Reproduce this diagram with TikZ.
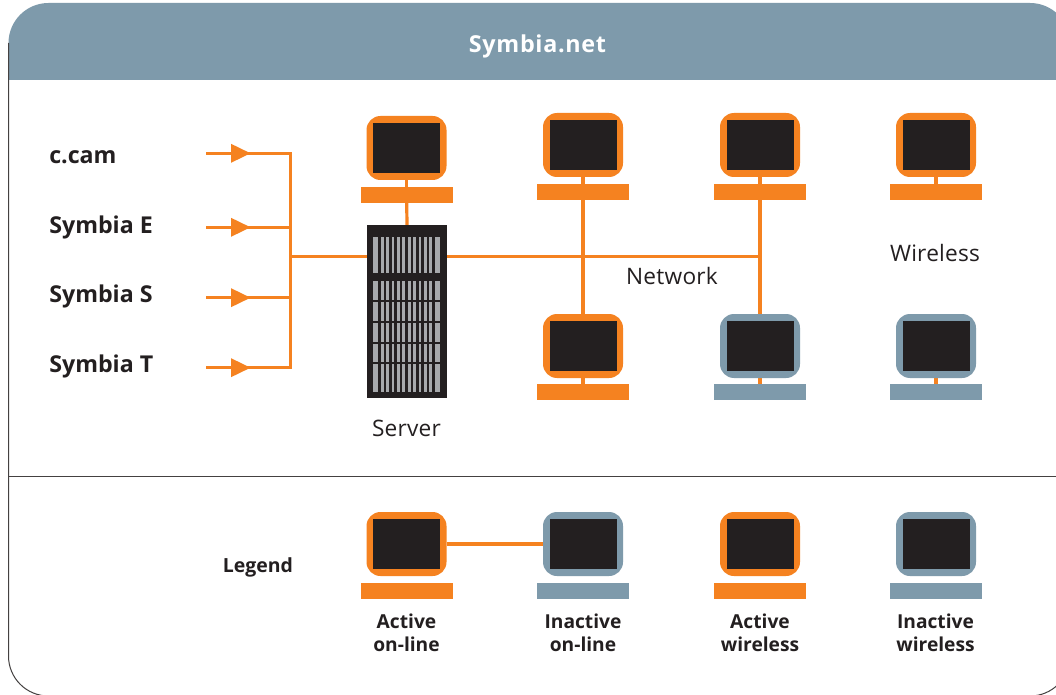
\documentclass[tikz,border=0pt]{standalone}
\usepackage{fontspec}
\setmainfont{Open Sans}
\definecolor{hdr}{HTML}{7E9AAB}
\definecolor{org}{HTML}{F58220}
\definecolor{scr}{HTML}{231F20}
\definecolor{slot}{HTML}{A7A9AC}
\definecolor{txt}{HTML}{231F20}
\tikzset{
  x=0.75pt,y=-0.75pt,
  link/.style={draw=org,line width=2.4pt},
  frameline/.style={draw=txt!85,line width=0.75pt},
  lab/.style={font=\fontsize{17.4}{17.4}\selectfont\bfseries,text=txt,anchor=base west,inner sep=0pt},
  plain/.style={font=\fontsize{17}{17}\selectfont\addfontfeature{LetterSpace=1}\selectfont,text=txt,inner sep=0pt,anchor=base},
  leg/.style={font=\fontsize{14.4}{17.25}\selectfont\bfseries,text=txt,inner sep=0pt,align=center},
}
% #1 name, #2 x-centre, #3 top, #4 colour, #5 neck colour, #6 base offset
\newcommand{\pcunit}[6]{
  \fill[#5] (#2-1.8,#3+60) rectangle (#2+1.8,#3+72);
  \fill[#4,rounded corners=10.5pt] (#2-40,#3) rectangle (#2+40,#3+64);
  \fill[scr] (#2-33.5,#3+7) rectangle (#2+33.5,#3+57);
  \fill[#4] (#2-46,#3+#6) rectangle (#2+46,#3+#6+16);
  \coordinate (#1t) at (#2,#3);
  \coordinate (#1b) at (#2,#3+#6);
  \coordinate (#1l) at (#2-40,#3+32);
  \coordinate (#1r) at (#2+40,#3+32);
}
\begin{document}
\begin{tikzpicture}
\useasboundingbox (0,0) rectangle (1056,695);
\fill[white] (0,0) rectangle (1056,695);
\begin{scope}
\clip (0,0) rectangle (1056,695);
\fill[hdr] (8.5,80) -- (8.5,43) arc[start angle=180,end angle=270,radius=40] -- (1030,3) arc[start angle=270,end angle=360,radius=40] -- (1070,80) -- cycle;
\draw[frameline] (8.5,43) -- (8.5,656) arc[start angle=180,end angle=90,radius=40] -- (1030,696) arc[start angle=90,end angle=0,radius=40];
\draw[frameline] (8.5,476) -- (1056,476);
\end{scope}
\node[font=\fontsize{17.5}{17.5}\selectfont\bfseries\addfontfeature{LetterSpace=3}\selectfont,text=white,inner sep=0pt,anchor=base] (title) at (537.5,53) {Symbia.net};

% sources
\node[lab] (s1) at (49,163.5) {c.cam};
\node[lab] (s2) at (49,233.5) {Symbia E};
\node[lab] (s3) at (49,302.5) {Symbia S};
\node[lab] (s4) at (49,372.5) {Symbia T};

\coordinate (a1) at (206,153.3);
\coordinate (a2) at (206,227.3);
\coordinate (a3) at (206,297.7);
\coordinate (a4) at (206,367.7);
\coordinate (bus1) at (290.5,153.3);
\coordinate (bus4) at (290.5,367.7);
\coordinate (busm) at (290.5,256.3);
\coordinate (b2) at (290.5,227.3);
\coordinate (b3) at (290.5,297.7);

% server
\coordinate (srvl) at (367,256.3);
\coordinate (srvr) at (447,256.3);
\coordinate (srvt) at (407,225);
\coordinate (j3) at (760,256.3);

\draw[link] (bus1) -- (a1) (b2) -- (a2) (b3) -- (a3) (bus4) -- (a4);
\draw[link,line cap=rect] (bus1) -- (bus4);
\draw[link] (busm) -- (srvl) (srvr) -- (j3);
\foreach \y in {153.3,227.3,297.7,367.7}
  \fill[org] (231,\y-9.5) -- (250.5,\y) -- (231,\y+9.5) -- cycle;

% computers
\pcunit{c1}{406.5}{116}{org}{org}{71}
\pcunit{c2}{583}{113}{org}{org}{71}
\pcunit{c3}{760}{113}{org}{org}{71}
\pcunit{c4}{936}{113}{org}{org}{71}
\pcunit{c5}{583}{314}{org}{org}{70}
\pcunit{c6}{760}{314}{hdr}{org}{70}
\pcunit{c7}{936}{314}{hdr}{org}{70}
\pcunit{l1}{406.5}{512}{org}{white}{71}
\pcunit{l2}{583}{512}{hdr}{white}{71}
\pcunit{l3}{760}{512}{org}{white}{71}
\pcunit{l4}{936}{512}{hdr}{white}{71}

\draw[link] (c1b) -- (srvt);
\draw[link] (c2b) -- (c5t);
\draw[link] (c3b) -- (c6t);
\draw[link] (l1r) -- (l2l);

\fill[scr] (367,225) rectangle (447,397.7);
\foreach \ya/\yb in {236.7/272.7,281/300,302/321,322.7/341.7,343.7/362.3,364.3/392}{
  \fill[slot] (373,\ya) rectangle (378.3,\yb);
  \foreach \x in {381,386.3,391.7,397,402.3,408,413.3,418.7,424,429.3}
    \fill[slot] (\x,\ya) rectangle (\x+2.7,\yb);
  \fill[slot] (434.7,\ya) rectangle (440,\yb);
}
\node[plain] (server) at (406.5,436) {Server};
\node[plain] (network) at (672,285) {Network};
\node[plain] (wireless) at (935,262) {Wireless};

\node[font=\fontsize{14.6}{14.6}\selectfont\bfseries,text=txt,inner sep=0pt] (legend) at (258,567) {Legend};
\node[leg] (t1) at (406.5,633) {Active\\on-line};
\node[leg] (t2) at (583,633) {Inactive\\on-line};
\node[leg] (t3) at (760,633) {Active\\wireless};
\node[leg] (t4) at (935.5,633) {Inactive\\wireless};
\end{tikzpicture}
\end{document}
